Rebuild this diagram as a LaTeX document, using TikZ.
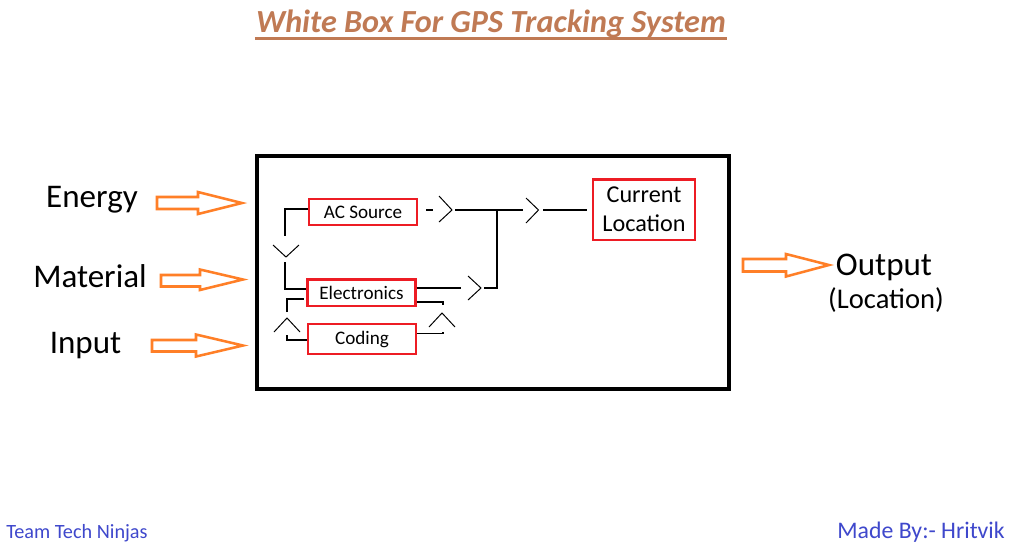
\documentclass[tikz,border=0pt]{standalone}
\usepackage{fontspec}
\setmainfont{Carlito}
\usetikzlibrary{calc}

\definecolor{titlebrown}{RGB}{192,122,84}
\definecolor{paintorange}{RGB}{255,127,39}
\definecolor{paintindigo}{RGB}{63,72,204}
\definecolor{boxred}{RGB}{237,28,36}

\begin{document}
\begin{tikzpicture}[x=0.025cm,y=-0.025cm,
    part/.style={draw=boxred,line width=2pt,inner sep=0pt,font=\fontsize{13.6}{16}\selectfont},
    wire/.style={line width=1.4pt},
    chev/.style={line width=0.7pt},
    flow/.style={draw=paintorange,fill=white,line width=1.8pt,line join=miter},
    side/.style={anchor=base,font=\fontsize{23.5}{27}\selectfont}]
\fill[white] (0,0) rectangle (1014,549);
\useasboundingbox (0,0) rectangle (1014,549);

% title
\node[anchor=base,inner sep=0pt,text=titlebrown,font=\fontsize{22.9}{26}\selectfont\bfseries\itshape] (title) at (491,32) {White Box For GPS Tracking System};
\draw[titlebrown,line width=1.5pt] ($(title.base west)+(-1,6.5)$) -- ($(title.base east)+(1,6.5)$);

% white box
\draw[line width=3.3pt] (257,156) rectangle (729,389);

\node[part,minimum width=2.7cm,minimum height=0.65cm] (ac) at (363,212) {AC Source};
\node[part,minimum width=2.68cm,minimum height=0.67cm] (el) at (361.5,292.5) {Electronics};
\node[part,minimum width=2.7cm,minimum height=0.75cm] (co) at (362,339) {Coding};
\node[part,minimum width=2.55cm,minimum height=1.52cm,align=center,font=\fontsize{17.2}{20.6}\selectfont] (cl) at (644,209.5) {Current\\Location};

% left loop
\draw[wire] (ac.west |- 0,209) -- (285,209) -- (285,236);
\draw[chev] (273,245) -- (286,257) -- (299,245);
\draw[wire] (285,262) -- (285,289) -- (el.west |- 0,289);

\draw[wire] (co.west |- 0,340) -- (287,340) -- (287,335);
\draw[chev] (274,332) -- (287,318) -- (300,332);
\draw[wire] (287,312) -- (287,299) -- (304,299);

% right loop
\draw[wire] (el.east |- 0,302) -- (443,302) -- (443,305);
\draw[chev] (429,327) -- (442,313) -- (455,327);
\draw[wire] (443,332) -- (443,333.5) -- (co.east |- 0,333.5);

% to current location
\draw[wire] (el.east |- 0,288) -- (461,288);
\draw[chev] (468,276) -- (481,288) -- (468,300);
\draw[wire] (484,288) -- (497,288) -- (497,210);

\draw[wire] (426,210) -- (433,210);
\draw[chev] (439,196) -- (452,210) -- (439,222);
\draw[wire] (455,210) -- (523,210);
\draw[chev] (526,198) -- (538.5,210) -- (526,223);
\draw[wire] (543,210) -- (587,210);

% inputs
\node[side] (energy) at (92,207) {Energy};
\node[side] (material) at (90,287) {Material};
\node[side] (input) at (85.5,353) {Input};
\draw[flow] (157,197) -- (198,197) -- (198,192) -- (242,203) -- (198,214) -- (198,209) -- (157,209) -- cycle;
\draw[flow] (161,275) -- (200,275) -- (200,269.5) -- (243,279.5) -- (200,290) -- (200,286.5) -- (161,286.5) -- cycle;
\draw[flow] (152,340) -- (196,340) -- (196,334.5) -- (243,345.5) -- (196,356.5) -- (196,351.5) -- (152,351.5) -- cycle;

% output
\draw[flow] (743,259) -- (786,259) -- (786,254) -- (829,265) -- (786,276.5) -- (786,271.5) -- (743,271.5) -- cycle;
\node[side] (output) at (884,275) {Output};
\node[anchor=base,font=\fontsize{20.3}{24}\selectfont] (loc) at (886,308) {(Location)};

% footer
\node[anchor=base west,inner sep=0pt,text=paintindigo,font=\fontsize{14.4}{17}\selectfont] (team) at (6,538) {Team Tech Ninjas};
\node[anchor=base east,inner sep=0pt,text=paintindigo,font=\fontsize{16.9}{20}\selectfont] (made) at (1005,538) {Made By:- Hritvik};
\end{tikzpicture}
\end{document}
